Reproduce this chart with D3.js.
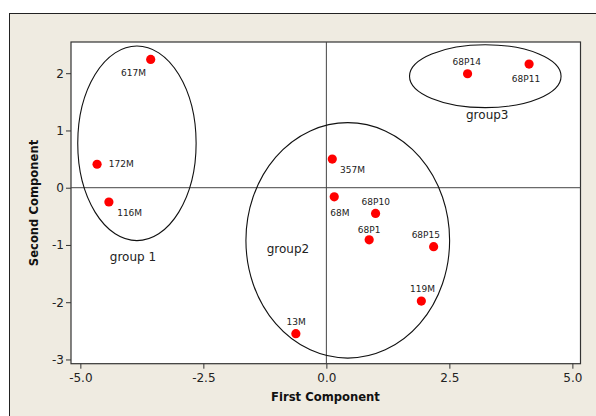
<!DOCTYPE html>
<html><head><meta charset="utf-8">
<script src="https://cdn.jsdelivr.net/npm/d3@7"></script>
<style>body{margin:0;background:#fff}svg{display:block}</style>
</head><body>
<svg id="c" width="596" height="416"></svg>
<script>
// ---- data ----
const labels = ["617M","172M","116M","357M","68M","68P10","68P1","68P15","119M","13M","68P14","68P11"];
const pc1 = [-3.57,-4.66,-4.42,0.12,0.16,1.00,0.87,2.18,1.93,-0.62,2.87,4.12];
const pc2 = [2.24,0.41,-0.25,0.50,-0.16,-0.45,-0.91,-1.03,-1.98,-2.55,1.99,2.16];
const groupNames = ["group 1","group2","group3"];
const groupCx = [-3.85,0.435,3.23];
const groupCy = [0.775,-0.92,1.948];
const groupRx = [1.203,2.07,1.54];
const groupRy = [1.70,2.056,0.55];
const groupLabelX = [-3.93,-0.78,3.27];
const groupLabelY = [-1.205,-1.065,1.27];
const xTicks = [-5,-2.5,0,2.5,5];
const yTicks = [-3,-2,-1,0,1,2];
const xTitle = "First Component";
const yTitle = "Second Component";

// ---- layout ----
const svg = d3.select("#c");
const L=71, T=42, R=580.5, B=363.7;
const x = d3.scaleLinear().domain([-5.19,5.165]).range([L,R]);
const y = d3.scaleLinear().domain([-3.074,2.545]).range([B,T]);
const font = "'DejaVu Sans', Verdana, sans-serif";

svg.append("rect").attr("x",9.5).attr("y",13.5).attr("width",620).attr("height",430)
  .attr("fill","#EFEBE1").attr("stroke","#222").attr("stroke-width",1);
svg.append("rect").attr("x",L).attr("y",T).attr("width",R-L).attr("height",B-T)
  .attr("fill","#fff").attr("stroke","#333").attr("stroke-width",1.2);

// reference lines
svg.append("line").attr("x1",x(0)).attr("x2",x(0)).attr("y1",T).attr("y2",B).attr("stroke","#444");
svg.append("line").attr("x1",L).attr("x2",R).attr("y1",y(0)).attr("y2",y(0)).attr("stroke","#444");

// axes
const gx = svg.append("g").attr("transform",`translate(0,${B})`)
  .call(d3.axisBottom(x).tickValues(xTicks).tickSize(5).tickPadding(5).tickFormat(d=>d.toFixed(1)));
const gy = svg.append("g").attr("transform",`translate(${L},0)`)
  .call(d3.axisLeft(y).tickValues(yTicks).tickSize(5).tickPadding(2).tickFormat(d=>String(d)));
[gx,gy].forEach(g=>{
  g.select(".domain").remove();
  g.selectAll("line").attr("stroke","#333");
  g.selectAll("text").attr("font-family",font).attr("font-size",12).attr("fill","#222");
});

svg.append("text").attr("x",325.5).attr("y",397.3).attr("dy","0.35em").attr("text-anchor","middle")
  .attr("font-family",font).attr("font-weight","bold").attr("font-size",11.6).attr("fill","#111").text(xTitle);
svg.append("text").attr("transform","translate(34,203) rotate(-90)").attr("dy","0.35em").attr("text-anchor","middle")
  .attr("font-family",font).attr("font-weight","bold").attr("font-size",11.6).attr("fill","#111").text(yTitle);

// ellipses
groupNames.forEach((g,i)=>{
  svg.append("ellipse").attr("cx",x(groupCx[i])).attr("cy",y(groupCy[i]))
    .attr("rx",x(groupRx[i])-x(0)).attr("ry",y(0)-y(groupRy[i]))
    .attr("fill","none").attr("stroke","#111").attr("stroke-width",1.1);
  svg.append("text").attr("x",x(groupLabelX[i])).attr("y",y(groupLabelY[i])).attr("dy","0.35em")
    .attr("text-anchor","middle").attr("font-family",font).attr("font-size",12).attr("fill","#222").text(g);
});

// label placement (pixel offsets from point centre)
const offs = {"617M":[-29.7,13.7],"172M":[11.7,0],"116M":[8.3,11.3],"357M":[7.7,10.7],"68M":[-4,16],
  "68P10":[-14,-11.3],"68P1":[-11.3,-9.7],"68P15":[-22,-11.4],"119M":[-11.3,-12],"13M":[-9.3,-12],
  "68P14":[-15,-12],"68P11":[-17.3,14.4]};

labels.forEach((lab,i)=>{
  svg.append("circle").attr("cx",x(pc1[i])).attr("cy",y(pc2[i])).attr("r",4.6).attr("fill","#FF0000");
  const o = offs[lab];
  svg.append("text").attr("x",x(pc1[i])+o[0]).attr("y",y(pc2[i])+o[1]).attr("dy","0.35em")
    .attr("font-family",font).attr("font-size",9).attr("fill","#222").text(lab);
});
</script>
</body></html>
